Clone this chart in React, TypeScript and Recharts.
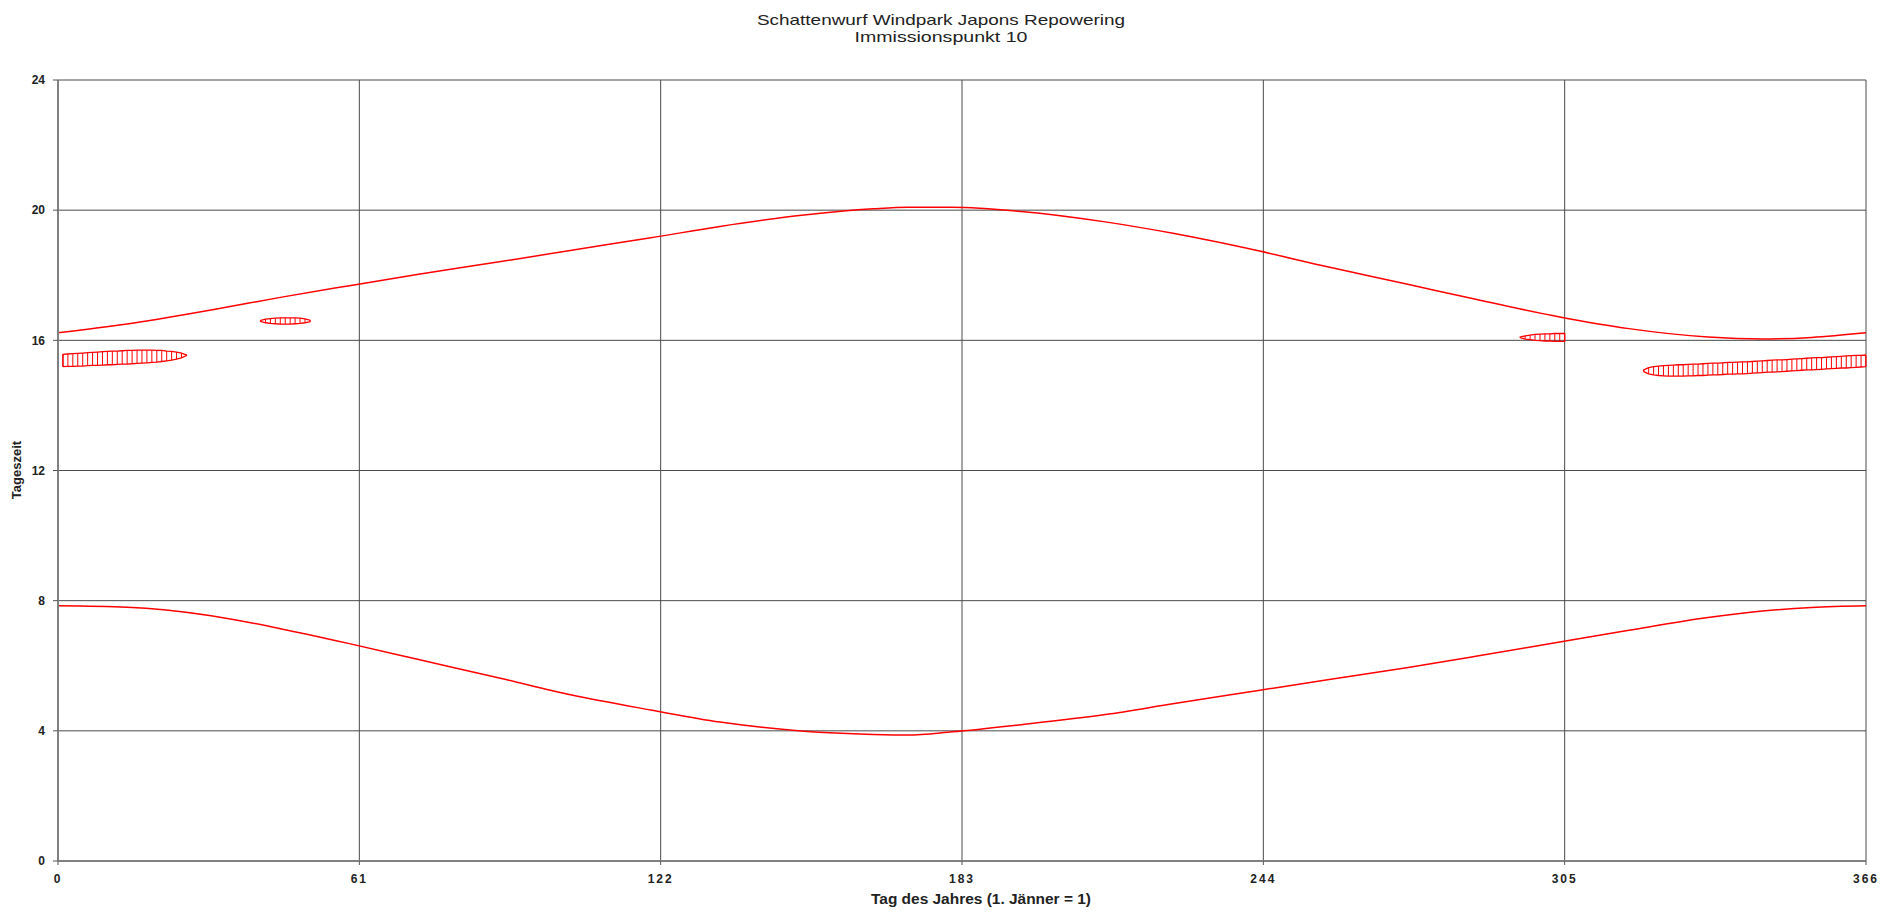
import React from "react";
import { ComposedChart, Line, XAxis, YAxis, CartesianGrid, ReferenceLine } from "recharts";

// Sunrise / sunset (Tageszeit in hours)
const sunDays = [0, 14, 31, 45, 59, 73, 90, 104, 120, 134, 151, 165, 172, 181, 195, 212, 226, 243, 257, 273, 287, 304, 318, 334, 345, 355, 366];
const sunriseHours = [7.84, 7.8, 7.54, 7.14, 6.68, 6.19, 5.6, 5.1, 4.64, 4.27, 3.99, 3.89, 3.87, 3.97, 4.19, 4.5, 4.84, 5.24, 5.57, 5.94, 6.29, 6.73, 7.09, 7.48, 7.68, 7.79, 7.84];
const sunsetHours = [16.23, 16.5, 16.93, 17.32, 17.68, 18.03, 18.43, 18.77, 19.15, 19.5, 19.85, 20.04, 20.09, 20.09, 19.96, 19.64, 19.28, 18.75, 18.26, 17.73, 17.26, 16.72, 16.36, 16.1, 16.04, 16.09, 16.23];

// Shadow flicker periods (start / end hour per day)
const zoneAFirstDay = 1;
const zoneAStart = [15.19, 15.2, 15.2, 15.21, 15.21, 15.22, 15.23, 15.23, 15.24, 15.25, 15.25, 15.26, 15.27, 15.27, 15.28, 15.29, 15.3, 15.31, 15.32, 15.33, 15.35, 15.37, 15.39, 15.42, 15.46, 15.53];
const zoneAEnd = [15.57, 15.58, 15.59, 15.6, 15.61, 15.62, 15.63, 15.64, 15.65, 15.66, 15.67, 15.67, 15.68, 15.69, 15.69, 15.7, 15.7, 15.7, 15.7, 15.69, 15.69, 15.67, 15.66, 15.64, 15.61, 15.55];

const zoneBFirstDay = 41;
const zoneBStart = [16.58, 16.54, 16.52, 16.51, 16.5, 16.5, 16.5, 16.51, 16.52, 16.54, 16.57];
const zoneBEnd = [16.61, 16.65, 16.67, 16.68, 16.69, 16.69, 16.69, 16.69, 16.68, 16.66, 16.62];

const zoneCFirstDay = 296;
const zoneCStart = [16.08, 16.04, 16.02, 16.0, 15.99, 15.98, 15.98, 15.97, 15.97, 15.97];
const zoneCEnd = [16.1, 16.14, 16.16, 16.18, 16.19, 16.2, 16.2, 16.21, 16.21, 16.21];

const zoneDFirstDay = 321;
const zoneDStart = [15.04, 14.97, 14.94, 14.92, 14.91, 14.9, 14.9, 14.9, 14.9, 14.91, 14.91, 14.92, 14.92, 14.93, 14.94, 14.94, 14.95, 14.96, 14.96, 14.97, 14.97, 14.98, 14.99, 15.0, 15.01, 15.02, 15.02, 15.03, 15.04, 15.05, 15.06, 15.07, 15.08, 15.09, 15.09, 15.1, 15.11, 15.12, 15.13, 15.14, 15.15, 15.15, 15.16, 15.17, 15.18, 15.19];
const zoneDEnd = [15.09, 15.16, 15.19, 15.21, 15.22, 15.23, 15.24, 15.25, 15.25, 15.26, 15.27, 15.27, 15.28, 15.29, 15.3, 15.3, 15.31, 15.32, 15.32, 15.33, 15.34, 15.34, 15.35, 15.36, 15.37, 15.38, 15.39, 15.4, 15.4, 15.41, 15.42, 15.43, 15.44, 15.45, 15.46, 15.47, 15.47, 15.48, 15.49, 15.5, 15.51, 15.52, 15.53, 15.54, 15.54, 15.55];

const xTicks = [0, 61, 122, 183, 244, 305, 366];
const yTicks = [0, 4, 8, 12, 16, 20, 24];

const titleLine1 = "Schattenwurf Windpark Japons Repowering";
const titleLine2 = "Immissionspunkt 10";
const xTitle = "Tag des Jahres (1. Jänner = 1)";
const yTitle = "Tageszeit";

const sunData = sunDays.map((d, i) => ({ x: d, rise: sunriseHours[i], set: sunsetHours[i] }));

type Zone = { first: number; start: number[]; end: number[] };
const zones: Zone[] = [
  { first: zoneAFirstDay, start: zoneAStart, end: zoneAEnd },
  { first: zoneBFirstDay, start: zoneBStart, end: zoneBEnd },
  { first: zoneCFirstDay, start: zoneCStart, end: zoneCEnd },
  { first: zoneDFirstDay, start: zoneDStart, end: zoneDEnd },
];

const outline = (z: Zone) => {
  const fwd = z.start.map((v, i) => ({ x: z.first + i, y: v }));
  const back = z.end.map((v, i) => ({ x: z.first + i, y: v })).reverse();
  return [...fwd, ...back, fwd[0]];
};

const RED = "#ff0000";
const FONT = "'Liberation Sans', Arial, sans-serif";

export default function App() {
  return (
    <div style={{ position: "absolute", left: 0, top: 0, width: 1885, height: 915, background: "#fff" }}>
      <ComposedChart
        width={1885}
        height={915}
        data={sunData}
        margin={{ top: 80, right: 19, bottom: 24, left: 18 }}
      >
        <CartesianGrid stroke="#4a4a4a" strokeWidth={1} />
        <XAxis
          dataKey="x"
          type="number"
          domain={[0, 366]}
          ticks={xTicks}
          allowDataOverflow
          height={30}
          interval={0}
          axisLine={{ stroke: "#808080", strokeWidth: 2 }}
          tickLine={{ stroke: "#555" }}
          tickSize={4}
          tickMargin={9}
          tick={{ fill: "#222", fontSize: 12, fontWeight: 700, fontFamily: FONT, letterSpacing: 2 }}
        />
        <YAxis
          type="number"
          domain={[0, 24]}
          ticks={yTicks}
          allowDataOverflow
          width={40}
          interval={0}
          axisLine={{ stroke: "#808080", strokeWidth: 2 }}
          tickLine={{ stroke: "#555" }}
          tickSize={5}
          tickMargin={8}
          tick={{ fill: "#222", fontSize: 12, fontWeight: 700, fontFamily: FONT }}
        />
        <Line dataKey="set" type="monotone" stroke={RED} strokeWidth={1.5} dot={false} isAnimationActive={false} />
        <Line dataKey="rise" type="monotone" stroke={RED} strokeWidth={1.5} dot={false} isAnimationActive={false} />
        {zones.map((z, zi) => (
          <Line
            key={"zone" + zi}
            data={outline(z)}
            dataKey="y"
            type="linear"
            stroke={RED}
            strokeWidth={1.3}
            dot={false}
            isAnimationActive={false}
          />
        ))}
        {zones.flatMap((z, zi) =>
          z.start.map((s, i) => (
            <ReferenceLine
              key={`h${zi}-${i}`}
              segment={[
                { x: z.first + i, y: s },
                { x: z.first + i, y: z.end[i] },
              ]}
              stroke={RED}
              strokeWidth={1}
              ifOverflow="visible"
            />
          ))
        )}
      </ComposedChart>
      <svg
        width={1885}
        height={915}
        style={{ position: "absolute", left: 0, top: 0, pointerEvents: "none" }}
      >
        <text x={941} y={25} textAnchor="middle" fontFamily={FONT} fontSize={15} fill="#222" textLength={368} lengthAdjust="spacingAndGlyphs">
          {titleLine1}
        </text>
        <text x={941} y={42} textAnchor="middle" fontFamily={FONT} fontSize={15} fill="#222" textLength={173} lengthAdjust="spacingAndGlyphs">
          {titleLine2}
        </text>
        <text x={981} y={904} textAnchor="middle" fontFamily={FONT} fontSize={14} fontWeight={700} fill="#222" textLength={220} lengthAdjust="spacingAndGlyphs">
          {xTitle}
        </text>
        <text
          x={0}
          y={0}
          transform="translate(21,470) rotate(-90)"
          textAnchor="middle"
          fontFamily={FONT}
          fontSize={13}
          fontWeight={700}
          fill="#222"
        >
          {yTitle}
        </text>
      </svg>
    </div>
  );
}
